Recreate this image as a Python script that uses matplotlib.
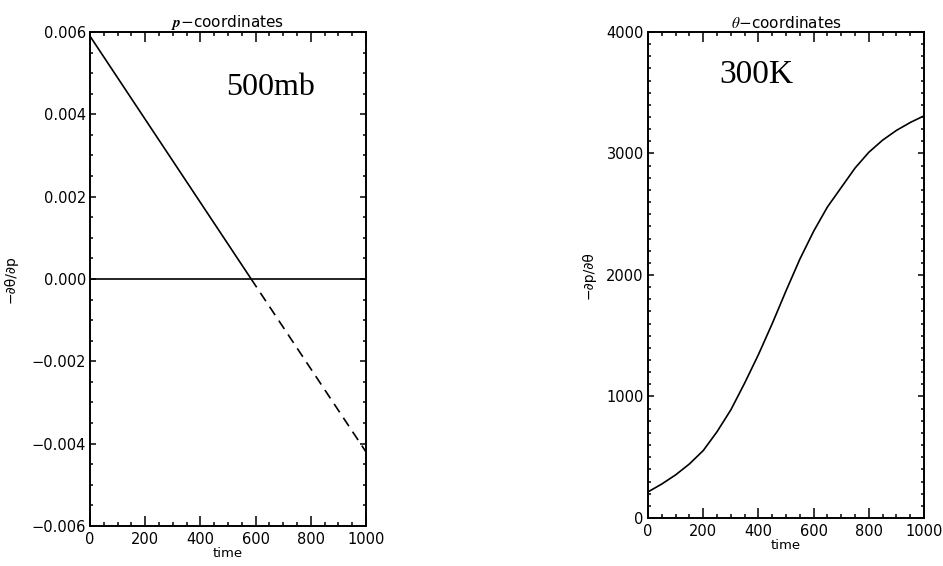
import matplotlib
matplotlib.use('Agg')
import matplotlib.pyplot as plt
from matplotlib.ticker import MultipleLocator

plt.rcParams['font.family'] = ['DejaVu Sans']
plt.rcParams['mathtext.fontset'] = 'stix'

# left panel: p-coordinates, 500mb
p_time = [0, 584, 1000]
p_value = [0.0059, 0.0, -0.0042]
p_yticks = [-0.006, -0.004, -0.002, 0.0, 0.002, 0.004, 0.006]
p_ylabels = ['\u22120.006', '\u22120.004', '\u22120.002', '0.000', '0.002', '0.004', '0.006']

# right panel: theta-coordinates, 300K
th_time = [0, 50, 100, 150, 200, 250, 300, 350, 400, 450, 500,
           550, 600, 650, 700, 750, 800, 850, 900, 950, 1000]
th_value = [215, 280, 355, 445, 555, 710, 890, 1110, 1345, 1600, 1870,
            2130, 2360, 2560, 2720, 2880, 3010, 3110, 3190, 3255, 3310]
th_yticks = [0, 1000, 2000, 3000, 4000]

xticks = [0, 200, 400, 600, 800, 1000]

fig = plt.figure(figsize=(9.43, 5.66), dpi=100)
ax1 = fig.add_axes([0.0954, 0.0707, 0.2927, 0.8728])
ax2 = fig.add_axes([0.6872, 0.0848, 0.2927, 0.8587])


def style(ax):
    ax.set_xlim(0, 1000)
    ax.set_xticks(xticks)
    ax.xaxis.set_minor_locator(MultipleLocator(50))
    ax.tick_params(axis='both', which='both', direction='in', top=True, right=True,
                   labelsize=10.5, width=1.1)
    ax.tick_params(axis='x', which='major', length=7, pad=4)
    ax.tick_params(axis='x', which='minor', length=3)
    ax.tick_params(axis='y', which='major', length=4.5, pad=3)
    ax.tick_params(axis='y', which='minor', length=2)
    for s in ax.spines.values():
        s.set_linewidth(1.4)
    ax.set_xlabel('time', fontsize=9.5, labelpad=0)


# left
ax1.plot(p_time[:2], p_value[:2], color='black', lw=1.2)
ax1.plot(p_time[1:], p_value[1:], color='black', lw=1.2, ls=(0, (6, 4)))
ax1.axhline(0, color='black', lw=1.2)
ax1.set_ylim(-0.006, 0.006)
ax1.set_yticks(p_yticks, p_ylabels)
ax1.yaxis.set_minor_locator(MultipleLocator(0.0005))
style(ax1)
ax1.set_ylabel('\u2212\u2202\u03b8/\u2202p', fontsize=10, labelpad=10)
ax1.set_title(r'$\boldsymbol{p}$' + '\u2212coordinates', fontsize=11, pad=3)
ax1.text(655, 0.00466, '500mb', fontsize=23, family='Liberation Serif',
         ha='center', va='center')

# right
ax2.plot(th_time, th_value, color='black', lw=1.2)
ax2.set_ylim(0, 4000)
ax2.set_yticks(th_yticks)
ax2.yaxis.set_minor_locator(MultipleLocator(100))
style(ax2)
ax2.set_ylabel('\u2212\u2202p/\u2202\u03b8', fontsize=10, labelpad=8)
ax2.set_title(r'$\theta$' + '\u2212coordinates', fontsize=11, pad=3)
ax2.text(392, 3647, '300K', fontsize=24, family='Liberation Serif',
         ha='center', va='center')

fig.savefig('out.png', dpi=100)
